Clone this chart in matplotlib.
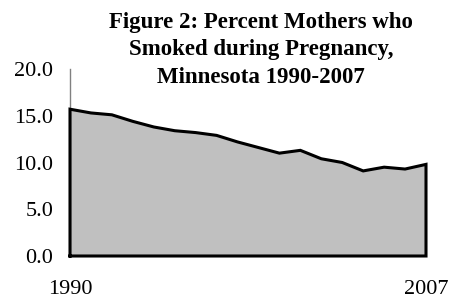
import matplotlib
matplotlib.use("Agg")
import matplotlib.pyplot as plt

years = list(range(1990, 2008))
percent = [15.7, 15.3, 15.1, 14.4, 13.8, 13.4, 13.2, 12.9, 12.2, 11.6,
           11.0, 11.3, 10.4, 10.0, 9.1, 9.5, 9.3, 9.8]
y_ticks = [0, 5, 10, 15, 20]
y_tick_labels = ["0.0", "5.0", "10.0", "15.0", "20.0"]
x_ticks = [1990, 2007]
x_tick_labels = ["1990", "2007"]
title_lines = ["Figure 2: Percent Mothers who",
               "Smoked during Pregnancy,",
               "Minnesota 1990-2007"]

W, H = 450, 299
fig = plt.figure(figsize=(W / 100, H / 100), dpi=100)
left, right, top, bottom = 70, 426, 69, 256
ax = fig.add_axes([left / W, 1 - bottom / H, (right - left) / W, (bottom - top) / H])

ax.fill_between(years, percent, 0, facecolor="#c0c0c0", edgecolor="none", zorder=2)
xs = [years[0]] + years + [years[-1], years[0]]
ys = [0] + percent + [0, 0]
ax.plot(xs, ys, color="black", lw=2.2, zorder=3, solid_joinstyle="miter", clip_on=False)

ax.set_xlim(years[0], years[-1])
ax.set_ylim(0, 20)
for s in ["top", "right", "bottom"]:
    ax.spines[s].set_visible(False)
ax.spines["left"].set_color("#808080")
ax.spines["left"].set_linewidth(1.0)

serif = ["Liberation Serif", "DejaVu Serif"]
ax.set_yticks(y_ticks)
ax.set_yticklabels(y_tick_labels, family=serif, fontsize=16)
ax.tick_params(axis="y", length=0, pad=12)
ax.set_xticks(x_ticks)
ax.set_xticklabels(x_tick_labels, family=serif, fontsize=16)
ax.tick_params(axis="x", length=0, pad=17)

for i, line in enumerate(title_lines):
    fig.text(261 / W, 1 - (20 + 27.5 * i) / H, line, ha="center", va="center_baseline",
             family=serif, fontweight="bold", fontsize=16.5)

fig.savefig("out.png", dpi=100)
